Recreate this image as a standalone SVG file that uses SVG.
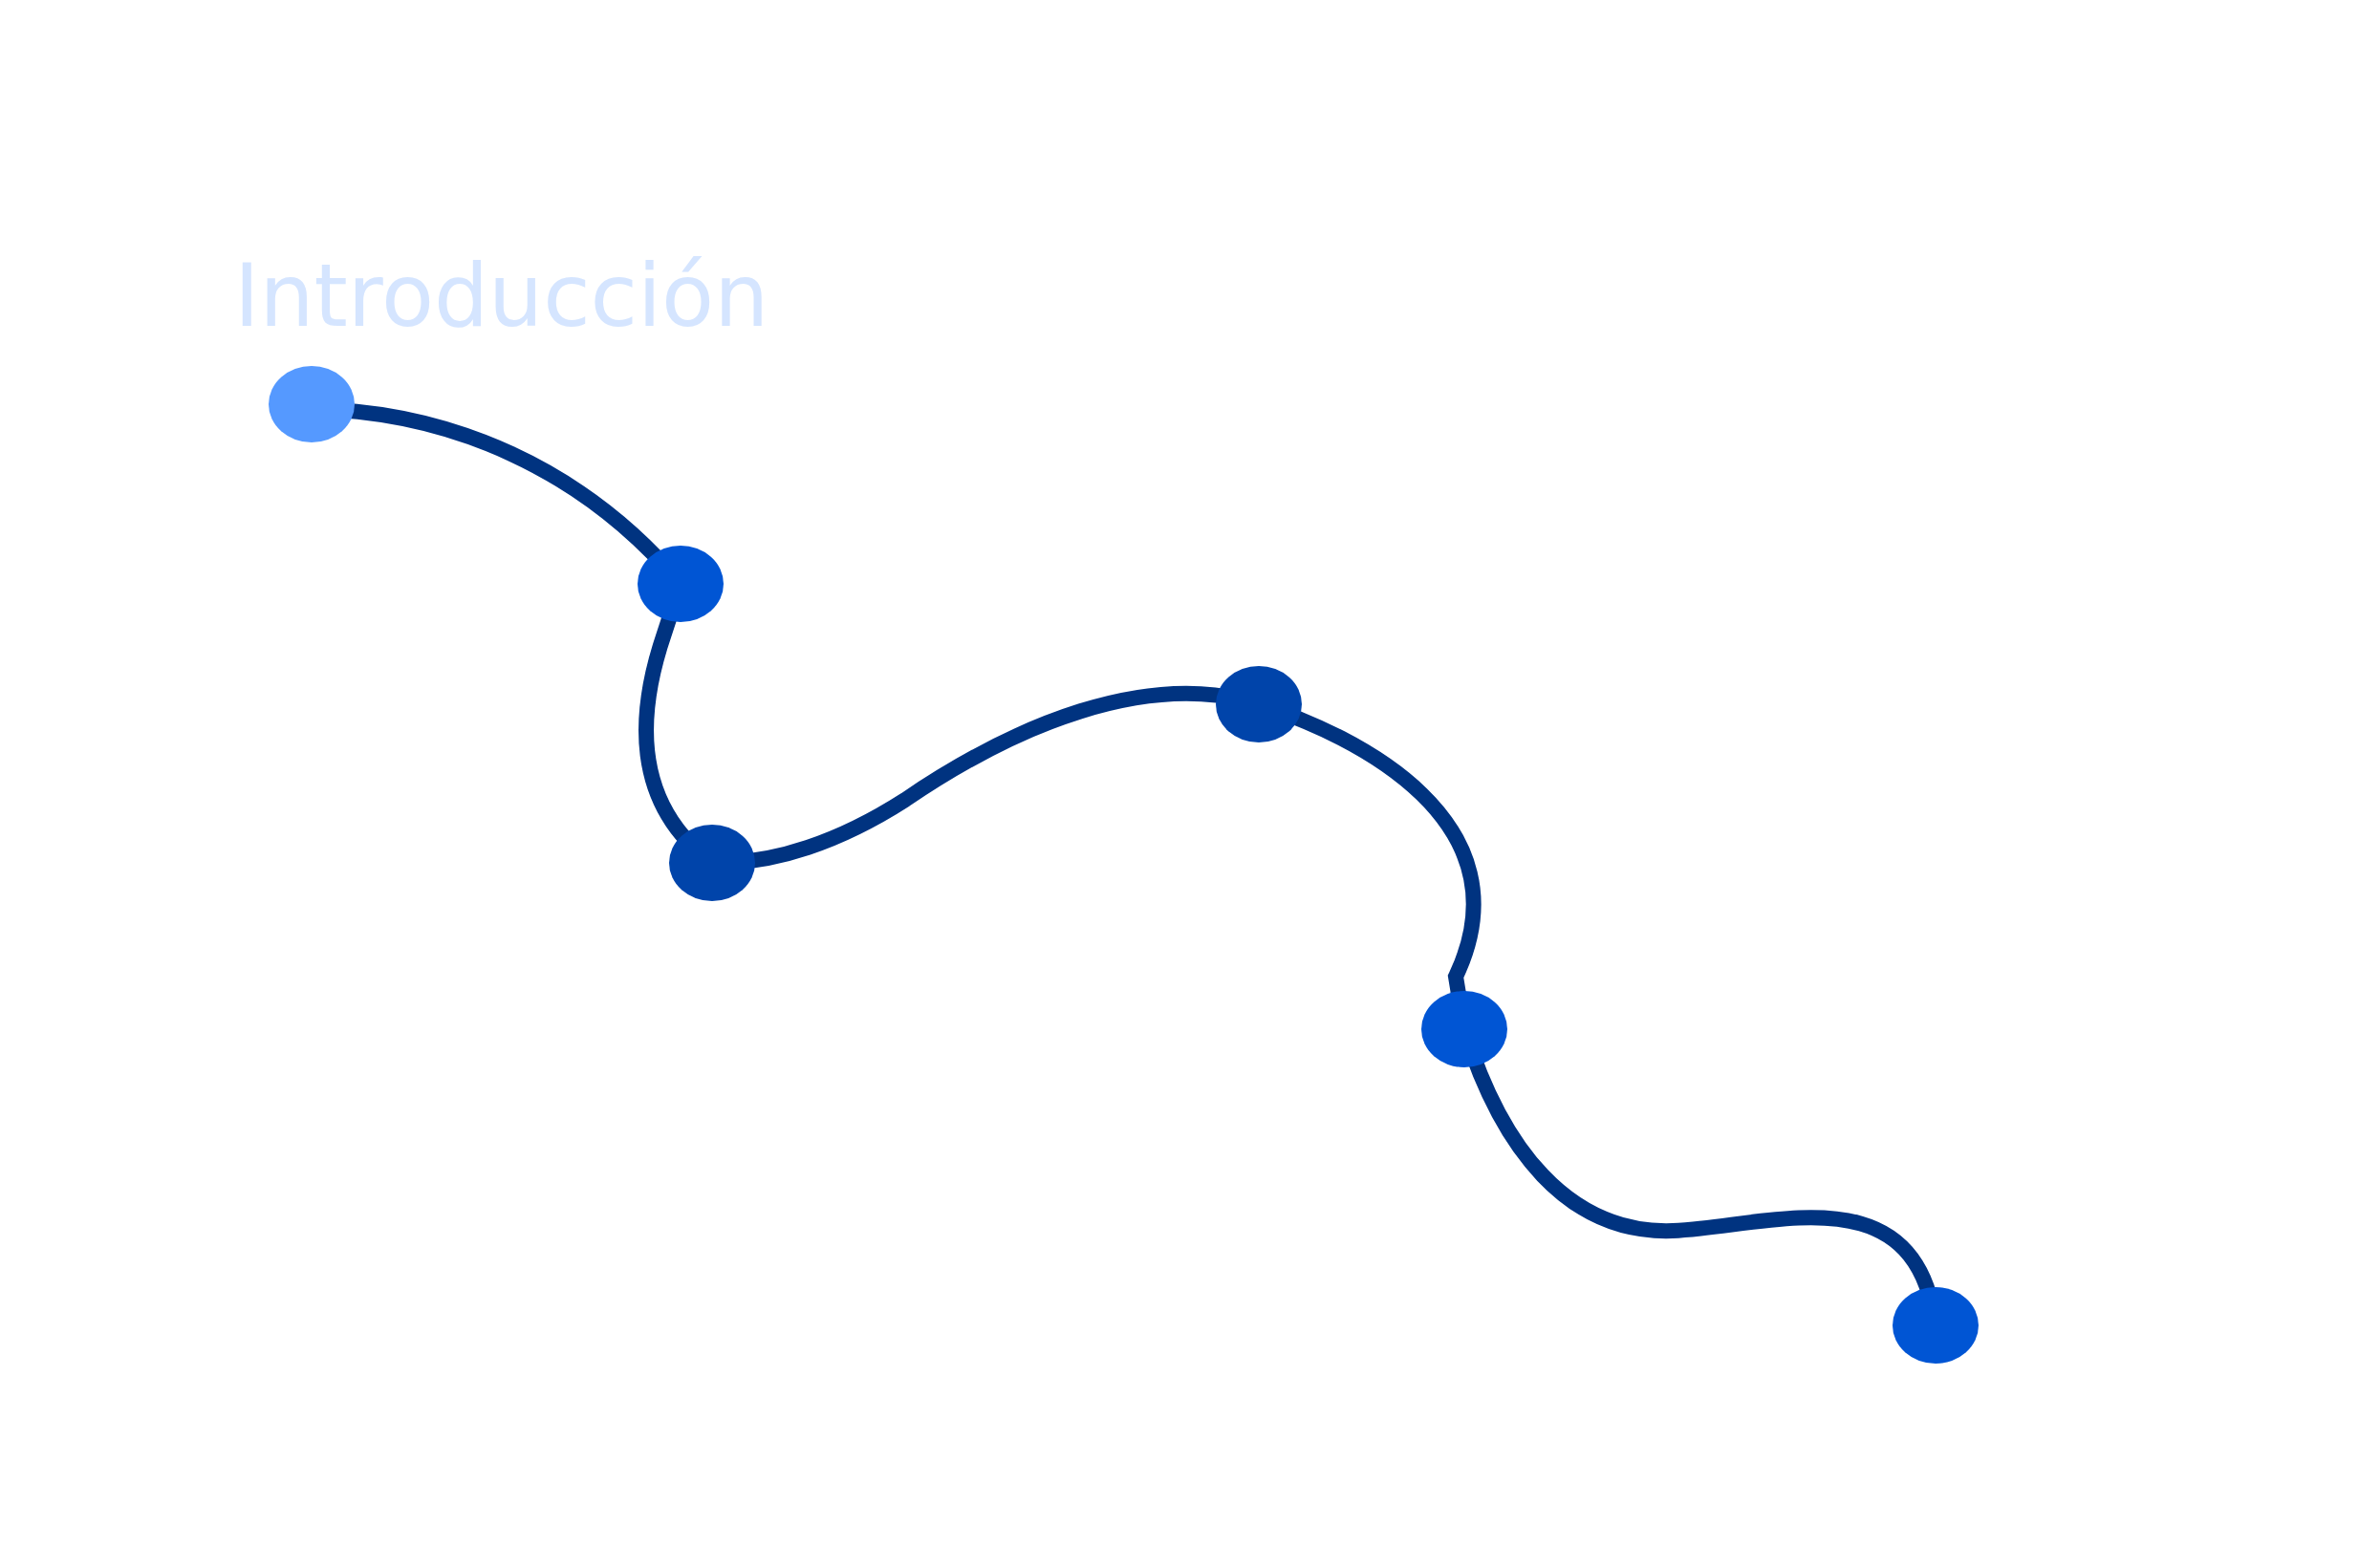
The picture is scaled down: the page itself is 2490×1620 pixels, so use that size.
<svg xmlns="http://www.w3.org/2000/svg" width="2490" height="1620" viewBox="0 0 2490 1620">
  <style>
    .edge { fill: none; stroke: #003380; stroke-width: 16; stroke-linejoin: miter; stroke-linecap: butt; }
    .node { stroke: none; }
    .title { font-family: "DejaVu Sans", "Liberation Sans", sans-serif; font-size: 90px; fill: #d5e5ff; }
  </style>
  <rect x="0" y="0" width="2490" height="1620" fill="#ffffff"/>
  <text class="title" x="245" y="341">Introducción</text>
  <g id="connectors">
    <path class="edge" d="M 326 428 C 470 430, 610 490, 712 611"/>
    <path class="edge" d="M 712 611 L 695 663 C 667 745, 660 840, 745 903"/>
    <path class="edge" d="M 745 903 C 810 905, 880 880, 947 837 C 1060 760, 1200 700, 1317 737"/>
    <path class="edge" d="M 1317 737 C 1420 770, 1600 860, 1523 1022 L 1532 1077"/>
    <path class="edge" d="M 1532 1077 C 1570 1200, 1640 1292, 1750 1288 C 1850 1284, 2005 1225, 2025 1387"/>
  </g>
  <g id="node1"><ellipse class="node" cx="326" cy="423" rx="45" ry="40" fill="#5599ff"/></g>
  <g id="node2"><ellipse class="node" cx="712" cy="611" rx="45" ry="40" fill="#0055d4"/></g>
  <g id="node3"><ellipse class="node" cx="745" cy="903" rx="45" ry="40" fill="#0044aa"/></g>
  <g id="node4"><ellipse class="node" cx="1317" cy="737" rx="45" ry="40" fill="#0044aa"/></g>
  <g id="node5"><ellipse class="node" cx="1532" cy="1077" rx="45" ry="40" fill="#0055d4"/></g>
  <g id="node6"><ellipse class="node" cx="2025" cy="1387" rx="45" ry="40" fill="#0055d4"/></g>
</svg>
